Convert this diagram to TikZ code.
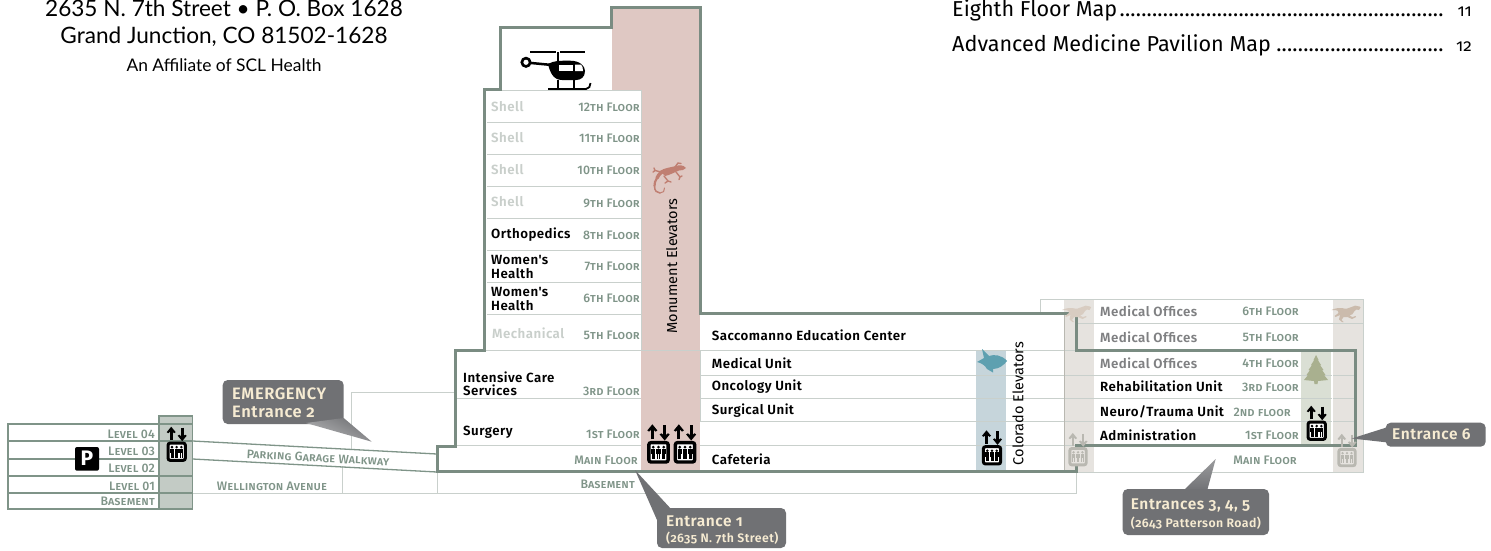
\documentclass[tikz,border=0pt]{standalone}
\usepackage{fontspec}
\setmainfont{Fira Sans}
\newfontfamily\fbold[LetterSpace=3.5,Numbers=OldStyle]{Fira Sans SemiBold}
\newfontfamily\fsc[Letters=SmallCaps,LetterSpace=0.5]{Fira Sans Medium}
\newfontfamily\fpk{Fira Sans Bold}
\newfontfamily\ftop{Lato}
\newfontfamily\fold[Numbers=OldStyle]{Fira Sans}
\definecolor{linegreen}{HTML}{7F9488}
\definecolor{thick}{HTML}{7A8C82}
\definecolor{pale}{HTML}{C9D0CC}
\definecolor{garage}{HTML}{C3CBC5}
\definecolor{pinkc}{HTML}{DFC8C3}
\definecolor{bluec}{HTML}{C6D5DB}
\definecolor{beigec}{HTML}{E6E3DF}
\definecolor{greenc}{HTML}{DADFD4}
\definecolor{labelg}{HTML}{7F9488}
\definecolor{shellc}{HTML}{C9CFCB}
\definecolor{officec}{HTML}{7F8082}
\definecolor{calloutc}{HTML}{707174}
\definecolor{cream}{HTML}{F6EBD2}
\definecolor{fadeic}{HTML}{B9B8B1}
\definecolor{lizardc}{HTML}{C07F72}
\definecolor{fishc}{HTML}{5EA0B0}
\definecolor{horsec}{HTML}{CBBBAC}
\definecolor{treec}{HTML}{A9B08F}
\tikzset{
  paleline/.style={draw=pale,line width=1pt},
  greenline/.style={draw=linegreen,line width=1.3pt},
  thickline/.style={draw=thick,line width=3pt,line join=miter},
  dept/.style={anchor=west,inner sep=0pt,font=\fbold\fontsize{13.3}{13.7}\selectfont,align=left},
  floorl/.style={anchor=east,inner sep=0pt,text=labelg,font=\fsc\fontsize{12.3}{13}\selectfont},
  shelll/.style={dept,text=shellc},
  office/.style={dept,text=officec},
  callout/.style={fill=calloutc,rounded corners=5pt,draw=none},
  calltext/.style={anchor=west,inner sep=0pt,text=cream,font=\fbold\fontsize{15.5}{16}\selectfont},
  callbig/.style={calltext,font=\fbold\fontsize{16.5}{17}\selectfont},
  callsub/.style={anchor=west,inner sep=0pt,text=cream,font=\fbold\fontsize{12.3}{13}\selectfont},
  vertl/.style={rotate=90,inner sep=0pt,font=\fontsize{14.5}{15}\selectfont},
  toptext/.style={inner sep=0pt,text=black},
}
\newcommand{\elev}[5]{% x y scale colour interior
  \begin{scope}[shift={(#1,#2)},scale=#3]
    \draw[#4,line width=#3*3pt,rounded corners=2pt,fill=#5] (-8.6,-8.6) rectangle (8.6,8.6);
    \draw[#4,line width=#3*2.6pt] (-5.5,-11.5) -- (-5.5,-21);
    \fill[#4] (-5.5,-25) -- (-1,-19.5) -- (-2.6,-18.5) -- (-5.5,-21) -- (-8.4,-18.5) -- (-10,-19.5) -- cycle;
    \draw[#4,line width=#3*2.6pt] (5.5,-24) -- (5.5,-14.5);
    \fill[#4] (5.5,-10.5) -- (1,-16) -- (2.6,-17) -- (5.5,-14.5) -- (8.4,-17) -- (10,-16) -- cycle;
    \foreach \px in {-4.7,0,4.7}{
      \fill[#4] (\px,-4.6) circle (1.4);
      \fill[#4] (\px-2,-3) rectangle (\px+2,1.2);
      \fill[#4] (\px-1.5,1.2) rectangle (\px-0.1,6);
      \fill[#4] (\px+0.1,1.2) rectangle (\px+1.5,6);
    }
  \end{scope}}
\newcommand{\horse}[3]{%
  \begin{scope}[shift={(#1,#2)}]
    \fill[#3] (0,5) .. controls (4,3) and (7,3) .. (10,3) .. controls (14,4) and (17,4) .. (20,2)
      .. controls (22,0.5) and (25,0) .. (28,1.5) -- (29,2.5) -- (27.5,5) -- (25,4.5) -- (23,6)
      .. controls (22,9) and (20,10) .. (18,10.5) -- (21,12) -- (24,11) -- (24.5,12) -- (20.5,14) -- (16,12)
      -- (12,12) -- (10,15) -- (12,17) -- (10.5,17) -- (7.5,14.5) -- (8.5,10) -- (4,12) -- (3,11)
      -- (7,8) .. controls (7,6) and (6,5) .. (4,5) -- cycle;
  \end{scope}}
\begin{document}
\begin{tikzpicture}[x=1pt,y=-1pt]
\useasboundingbox (0,0) rectangle (1491,550);
\fill[white] (0,0) rectangle (1491,550);
%% fills
\fill[pinkc] (612,7) rectangle (700,90);
\fill[pinkc] (641,90) rectangle (700,472);
\fill[bluec] (976,350) rectangle (1006,472);
\fill[beigec] (1064,299) rectangle (1094,472);
\fill[beigec] (1333,299) rectangle (1363,472);
\fill[greenc] (1301,350) rectangle (1331,445);
\fill[garage] (159,416) rectangle (192.7,509);
%% pale lines
\foreach \yy in {90,122.5,154.5,186.7,218,250,282,314}{\draw[paleline] (487,\yy) -- (641,\yy);}
\draw[paleline] (641,90) -- (641,350);
\draw[paleline] (456,350) -- (1076,350);
\draw[paleline] (456,398) -- (641,398);
\draw[paleline] (438,445) -- (641,445);
\draw[paleline] (700,350) -- (700,421);
\foreach \yy in {375,398,421}{\draw[paleline] (700,\yy) -- (1355,\yy);}
\draw[paleline] (700,445) -- (1076,445);
\draw[paleline] (437,472) -- (437,493) -- (1076.5,493) -- (1076.5,472);
\draw[paleline] (192.7,493) -- (437,493);
\draw[paleline] (342,466) -- (342,493);
\draw[paleline] (351,450) -- (351,392) -- (456,392);
\draw[paleline] (1076,323.5) -- (1363,323.5);
\draw[paleline] (1040,313) -- (1040,299) -- (1363,299) -- (1363,472) -- (1076,472);
\draw[draw=fadeic,line width=1pt] (1064.5,313) -- (1064.5,472);
\draw[draw=white,line width=1pt] (1332,350) -- (1332,445);
%% garage
\draw[greenline] (8,424) rectangle (192.7,509);
\draw[greenline] (159,416) rectangle (192.7,509);
\foreach \yy in {441,476,493}{\draw[greenline] (8,\yy) -- (192.7,\yy);}
\draw[greenline] (8,459) -- (159,459);
\draw[greenline] (159,424) -- (192.7,424);
\draw[greenline] (192.7,441) -- (437,454);
\draw[greenline] (192.7,459) -- (437,472);
%% main outline
\draw[thickline] (437,446) -- (455.5,446) -- (455.5,350.5) -- (484.5,350.5) -- (484.5,89.5) -- (500.5,89.5) -- (500.5,27) -- (611.5,27) -- (611.5,7) -- (700,7) -- (700,313) -- (1076,313) -- (1076,350) -- (1355,350) -- (1355,445) -- (1076.5,445) -- (1076.5,471.5) -- (437,471.5) -- cycle;
%% icons
\elev{176.7}{451.7}{1}{black}{white}
\elev{658.5}{452.3}{1.12}{black}{white}
\elev{685}{452.3}{1.12}{black}{white}
\elev{992}{455.3}{1}{black}{white}
\elev{1316.7}{430.7}{1}{black}{white}
\elev{1078}{456.7}{0.95}{fadeic}{beigec}
\elev{1347}{457.5}{0.95}{fadeic}{beigec}
\fill[black,rounded corners=2pt] (75,447) rectangle (99,470.7);
\node[inner sep=0pt,text=white,font=\fpk\fontsize{21}{21}\selectfont] (pmark) at (87,458.7) {P};
%% helicopter
\draw[black,line width=2pt] (530,52.3) -- (556,52.3) (560,52.3) -- (585,52.3);
\draw[black,line width=2pt] (558,52.3) -- (558,66);
\draw[black,line width=2.5pt] (526,62.5) -- (552,65);
\fill[black] (548,64) .. controls (554,60.5) and (560,60.7) .. (570,60.7) .. controls (580,60.7) and (585,66) .. (585,71) .. controls (585,77) and (581,80) .. (576,80) -- (562,80) .. controls (553,80) and (550,72) .. (548,64) -- cycle;
\fill[white] (559,64.5) rectangle (573,71);
\fill[white] (575,64.5) -- (581,64.5) .. controls (582.5,66) and (583,68) .. (583,71) -- (575,71) -- cycle;
\fill[black] (526,62.3) circle (5.6);
\fill[white] (526,62.3) circle (2.6);
\draw[black,line width=1.8pt] (558,80) -- (558,89) (574,80) -- (574,89);
\draw[black,line width=1.8pt] (548,89) -- (586,89) .. controls (589,89) and (590.5,86) .. (590.5,83);
%% lizard
\begin{scope}[lizardc,line cap=round]
\fill (686,168) .. controls (683,164.5) and (679,165) .. (676,166) .. controls (670,167.5) and (664,168) .. (660,171) -- (665,176) .. controls (670,175) and (675,172) .. (679,170.5) .. controls (682,170.5) and (684,170) .. (686,168) -- cycle;
\draw[line width=3.4pt] (662,172) .. controls (659,174) and (658,176) .. (657,178);
\draw[line width=2.2pt] (657,178) .. controls (655,181) and (654.5,183) .. (654.5,186);
\draw[line width=1.5pt] (654.5,186) .. controls (654.5,191) and (657,193) .. (660,193);
\draw[line width=1pt] (660,193) .. controls (663,193) and (665,191) .. (664.5,188);
\draw[line width=1.4pt] (661,172) -- (655,170.5) (654,168) -- (655,170.5) -- (653,172) (664,176) -- (668,181) -- (665,183) (668,181) -- (671,182) (675,167) -- (678,163) -- (681,163.5) (676,172) -- (680,177) -- (682,176) (680,177) -- (679,179.5);
\end{scope}
%% fish
\fill[fishc] (1007,361) .. controls (1002,355) and (994,354) .. (989,356) -- (982,349) -- (984,358) -- (977,362) .. controls (981,363) and (985,365) .. (987,369) -- (993,372.5) -- (993,369) .. controls (999,369) and (1004,365) .. (1007,361) -- cycle;
%% horses
\horse{1331.5}{305}{horsec}
\horse{1062}{305}{horsec!75!white}
%% tree
\fill[treec] (1316,355) -- (1318.5,360) -- (1317.8,360) -- (1321,365) -- (1320,365) -- (1323.5,370) -- (1322,370) -- (1325.5,375) -- (1324,375) -- (1328,380) -- (1318,381) -- (1317.5,384) -- (1314.5,384) -- (1314,381) -- (1304,380) -- (1308,375) -- (1306.5,375) -- (1310,370) -- (1308.5,370) -- (1312,365) -- (1311,365) -- (1314.2,360) -- (1313.5,360) -- cycle;
%% labels floors
\foreach \nm/\yy/\tx in {s12/107/12th Floor,s11/138.5/11th Floor,s10/170.5/10th Floor,s9/203/9th Floor,s8/235/8th Floor,s7/266/7th Floor,s6/298/6th Floor,s5/335/5th Floor,s3/391.5/3rd Floor,s1/434/1st Floor}{
  \node[floorl] (\nm) at (640,\yy) {\tx};}
\node[floorl] (smain) at (638,460) {Main Floor};
\node[floorl] (sbase) at (635,484) {Basement};
\foreach \nm/\yy/\tx in {r6/311.5/6th Floor,r5/337/5th Floor,r4/363/4th Floor,r3/387/3rd Floor,r1/435/1st Floor}{
  \node[floorl] (\nm) at (1299,\yy) {\tx};}
\node[floorl] (r2) at (1291,412) {2nd floor};
\node[floorl] (rmain) at (1297,460) {Main Floor};
\foreach \nm/\yy/\tx in {l4/434/Level 04,l3/451/Level 03,l2/468/Level 02,l1/486/Level 01,lb/501/Basement}{
  \node[floorl] (\nm) at (155,\yy) {\tx};}
\node[floorl,anchor=center,rotate=-3] (walk) at (318,457.7) {Parking Garage Walkway};
\node[floorl,anchor=center] (well) at (272,486) {Wellington Avenue};
%% departments
\foreach \nm/\yy in {d12/107,d11/137.7,d10/170,d9/202}{\node[shelll] (\nm) at (491,\yy) {Shell};}
\node[dept] (ortho) at (491,235) {Orthopedics};
\node[dept] (wh7) at (491,267) {Women's\\Health};
\node[dept] (wh6) at (491,299) {Women's\\Health};
\node[shelll] (mech) at (492,333) {Mechanical};
\node[dept] (icu) at (463,383.7) {Intensive Care\\Services};
\node[dept] (surg) at (463,432.7) {Surgery};
\node[dept] (sacc) at (711.7,335) {Saccomanno Education Center};
\node[dept] (medu) at (711.7,363) {Medical Unit};
\node[dept] (onco) at (711.7,387) {Oncology Unit};
\node[dept] (surgu) at (711.7,411) {Surgical Unit};
\node[dept] (cafe) at (711.7,459.5) {Cafeteria};
\node[office] (mo6) at (1100,311.7) {Medical Offices};
\node[office] (mo5) at (1100,337) {Medical Offices};
\node[office] (mo4) at (1100,363) {Medical Offices};
\node[dept] (reha) at (1100,386) {Rehabilitation Unit};
\node[dept] (neur) at (1100,411.5) {Neuro/Trauma Unit};
\node[dept] (admi) at (1100,435) {Administration};
\node[vertl] (mon) at (671.7,266) {Monument Elevators};
\node[vertl] (col) at (1018,403.7) {Colorado Elevators};
%% callouts
\fill[callout] (222.7,380) rectangle (343.7,424);
\shade[left color=calloutc,right color=calloutc!50!white,shading angle=-25] (306,423) -- (343.7,418) -- (371.7,441.7) -- cycle;
\node[callbig] (em1) at (232,394) {EMERGENCY};
\node[callbig] (em2) at (232,412) {Entrance 2};
\fill[calloutc] (635,470) -- (672,510) -- (657,520) -- cycle;
\fill[callout] (657,508) rectangle (786,548);
\node[calltext] (e1) at (666,521.7) {Entrance 1};
\node[callsub] (e1s) at (666,537.7) {(2635 N. 7th Street)};
\shade[bottom color=calloutc,top color=calloutc!70!white] (1183,491) -- (1215.7,459) -- (1207,491) -- cycle;
\fill[callout] (1122.7,489) rectangle (1269,535);
\node[calltext] (e3) at (1130.7,505) {Entrances 3, 4, 5};
\node[callsub] (e3s) at (1130.7,522.7) {(2643 Patterson Road)};
\fill[calloutc] (1351.7,438.5) -- (1388,427) -- (1388,442.5) -- cycle;
\fill[callout] (1385.7,422.7) rectangle (1485.7,446.7);
\node[calltext] (e6) at (1392,434.7) {Entrance 6};
%% top text
\node[toptext,font=\ftop\fontsize{22.6}{23}\selectfont] (t1) at (224,8) {2635 N. 7th Street • P. O. Box 1628};
\node[toptext,font=\ftop\fontsize{22.6}{23}\selectfont] (t2) at (224,37) {Grand Junction, CO 81502-1628};
\node[toptext,font=\ftop\fontsize{17.4}{18}\selectfont] (t3) at (224,65) {An Affiliate of SCL Health};
\newcommand{\dotsto}[2]{\hbox to #1{#2\hskip 2pt\leaders\hbox to 5.4pt{\hss.\hss}\hfill}}
\node[toptext,anchor=west,font=\fontsize{21.6}{23}\selectfont] (toc1) at (952,10.5) {\dotsto{495pt}{Eighth Floor Map}};
\node[toptext,anchor=west,font=\fontsize{21.6}{23}\selectfont] (toc2) at (952,45) {\dotsto{495pt}{Advanced Medicine Pavilion Map}};
\node[toptext,anchor=east,font=\fold\fontsize{17}{18}\selectfont] (p11) at (1472,12) {11};
\node[toptext,anchor=east,font=\fold\fontsize{17}{18}\selectfont] (p12) at (1472,46.5) {12};
\end{tikzpicture}
\end{document}
